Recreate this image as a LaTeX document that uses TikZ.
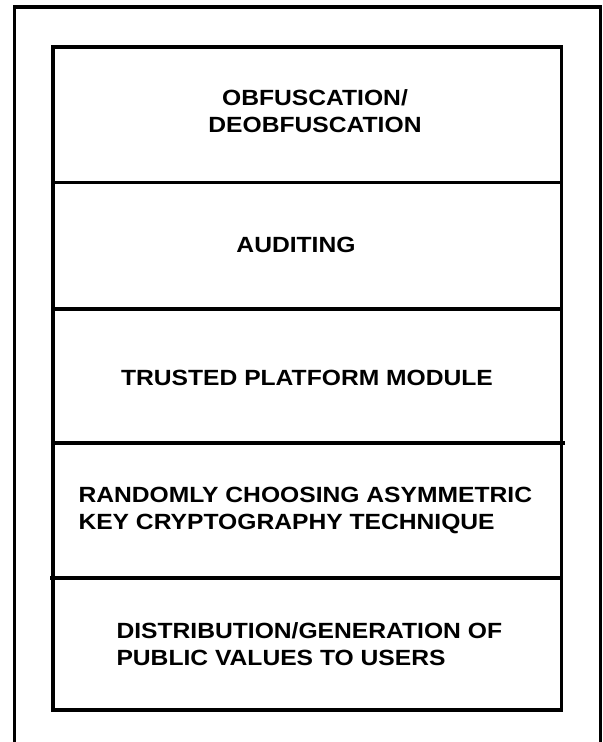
\documentclass[tikz,border=0pt]{standalone}
\usepackage{fontspec}
\setmainfont{Liberation Sans}[FakeStretch=1.12]
\begin{document}
\begin{tikzpicture}[x=1bp,y=-1bp,
  frame/.style={draw=black,line width=3.2bp},
  rule/.style={draw=black,line width=3.2bp},
  label/.style={inner sep=0pt,outer sep=0pt,font=\fontsize{22bp}{27bp}\selectfont\bfseries}]
\useasboundingbox (0,0) rectangle (603,742);
% outer frame (bottom edge lies below the picture)
\begin{scope}
\clip (0,0) rectangle (603,742);
\draw[frame] (14.5,7) rectangle (600.5,770);
\end{scope}
% inner stack
\coordinate (tl) at (53,47);
\coordinate (br) at (561.5,710);
\draw[frame] (tl) rectangle (br);
\coordinate (d1l) at (53,182.5); \coordinate (d1r) at (561.5,182.5);
\coordinate (d2l) at (53,309);   \coordinate (d2r) at (561.5,309);
\coordinate (d3l) at (53,443);   \coordinate (d3r) at (565,443);
\coordinate (d4l) at (50,578);   \coordinate (d4r) at (561.5,578);
\draw[rule] (d1l) -- (d1r);
\draw[rule] (d2l) -- (d2r);
\draw[rule] (d3l) -- (d3r);
\draw[rule] (d4l) -- (d4r);
% labels
\node[label,anchor=base] (obf1) at (315,105.5) {OBFUSCATION/};
\node[label,anchor=base] (obf2) at (315,132.5) {DEOBFUSCATION};
\node[label,anchor=base] (aud) at (296,252) {AUDITING};
\node[label,anchor=base] (tpm) at (307,385) {TRUSTED PLATFORM MODULE};
\node[label,anchor=base west] (rnd1) at (78.5,502) {RANDOMLY CHOOSING ASYMMETRIC};
\node[label,anchor=base west] (rnd2) at (78.5,529) {KEY CRYPTOGRAPHY TECHNIQUE};
\node[label,anchor=base west] (dst1) at (116.5,638.5) {DISTRIBUTION/GENERATION OF};
\node[label,anchor=base west] (dst2) at (116.5,665.5) {PUBLIC VALUES TO USERS};
\end{tikzpicture}
\end{document}
